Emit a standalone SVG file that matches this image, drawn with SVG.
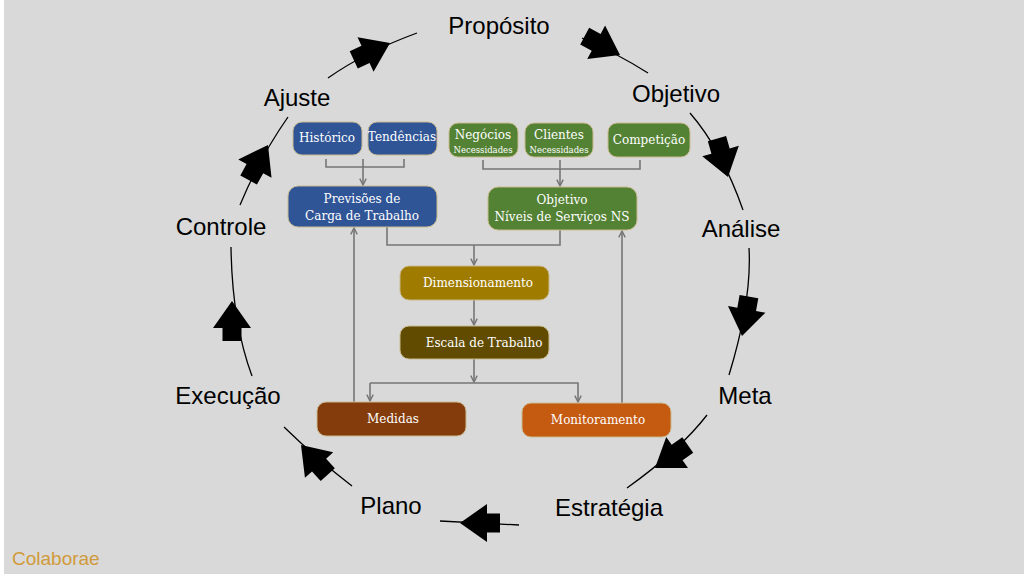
<svg xmlns="http://www.w3.org/2000/svg" xmlns:xlink="http://www.w3.org/1999/xlink" width="1024" height="581" viewBox="0 0 1024 581">
<defs>
<style>
.lbl{font-family:"Liberation Sans",Arial,sans-serif;font-size:24px;fill:#000;text-anchor:middle}
.bt{font-family:"DejaVu Serif",serif;font-size:12px;fill:#fff;text-anchor:middle}
.sm{font-family:"DejaVu Serif",serif;font-size:8.5px;fill:#fff;text-anchor:middle}
.box{stroke:#c9ba8f;stroke-width:1}
.cyc{fill:none;stroke:#000;stroke-width:1.3}
.con{fill:none;stroke:#767676;stroke-width:1.6}
</style>
<polygon id="ah" points="0,0 -27,-19 -27,-9.5 -40,-9.5 -40,9.5 -27,9.5 -27,19" fill="#000"/>
<marker id="m" viewBox="0 0 10 10" refX="9" refY="5" markerWidth="8" markerHeight="8" markerUnits="userSpaceOnUse" orient="auto">
<polyline points="1,1 9,5 1,9" fill="none" stroke="#767676" stroke-width="1.8"/>
</marker>
</defs>
<rect width="1024" height="581" fill="#fff"/>
<rect x="4" y="0" width="1020" height="574" fill="#d9d9d9"/>

<g id="cycle-connectors">
<path class="cyc" d="M328,78 Q365,52 417,33"/>
<use xlink:href="#ah" transform="translate(390,43) rotate(-25)"/>
<path class="cyc" d="M582,38 Q618,54 648,73"/>
<use xlink:href="#ah" transform="translate(620,55) rotate(28)"/>
<path class="cyc" d="M690,113 Q722,150 743,210"/>
<use xlink:href="#ah" transform="translate(728,177) rotate(74)"/>
<path class="cyc" d="M749,248 Q752,300 729,375"/>
<use xlink:href="#ah" transform="translate(742,336) rotate(100)"/>
<path class="cyc" d="M707,415 Q680,450 627,488"/>
<use xlink:href="#ah" transform="translate(655,468) rotate(145)"/>
<path class="cyc" d="M519,525 Q480,523 440,521"/>
<use xlink:href="#ah" transform="translate(460,523) rotate(180)"/>
<path class="cyc" d="M352,486 Q318,460 284,427"/>
<use xlink:href="#ah" transform="translate(301,445) rotate(228)"/>
<path class="cyc" d="M252,376 Q232,322 231,247"/>
<use xlink:href="#ah" transform="translate(232,301) rotate(-90)"/>
<path class="cyc" d="M240,205 Q260,157 288,117"/>
<use xlink:href="#ah" transform="translate(268,145) rotate(-61)"/>
</g>

<g id="cycle-labels">
<text class="lbl" x="499" y="34">Propósito</text>
<text class="lbl" x="676" y="102">Objetivo</text>
<text class="lbl" x="741" y="237">Análise</text>
<text class="lbl" x="745" y="404">Meta</text>
<text class="lbl" x="609" y="516">Estratégia</text>
<text class="lbl" x="391" y="514">Plano</text>
<text class="lbl" x="228" y="404">Execução</text>
<text class="lbl" x="221" y="235">Controle</text>
<text class="lbl" x="297" y="106">Ajuste</text>
</g>

<g id="connectors">
<polyline class="con" points="326,159 326,167 404,167 404,159"/>
<line class="con" x1="363" y1="159" x2="363" y2="185" marker-end="url(#m)"/>
<polyline class="con" points="483,160 483,169 640,169 640,160"/>
<line class="con" x1="560" y1="160" x2="560" y2="186" marker-end="url(#m)"/>
<polyline class="con" points="387,227 387,245 560,245 560,230"/>
<line class="con" x1="474" y1="245" x2="474" y2="265" marker-end="url(#m)"/>
<line class="con" x1="474" y1="300" x2="474" y2="325" marker-end="url(#m)"/>
<line class="con" x1="474" y1="359" x2="474" y2="382" marker-end="url(#m)"/>
<polyline class="con" points="370,383 578,383 578,402" marker-end="url(#m)"/>
<line class="con" x1="370" y1="383" x2="370" y2="401" marker-end="url(#m)"/>
<line class="con" x1="354" y1="402" x2="354" y2="228" marker-end="url(#m)"/>
<line class="con" x1="622" y1="403" x2="622" y2="231" marker-end="url(#m)"/>
</g>

<g id="historico"><rect class="box" x="293" y="122" width="69" height="33" rx="9" fill="#2f5597"/><text class="bt" x="327" y="142">Histórico</text></g>
<g id="tendencias"><rect class="box" x="368" y="122" width="69" height="33" rx="9" fill="#2f5597"/><text class="bt" x="402" y="141">Tendências</text></g>
<g id="negocios"><rect class="box" x="449" y="123" width="69" height="34" rx="9" fill="#548235"/><text class="bt" x="483" y="139">Negócios</text><text class="sm" x="483" y="153">Necessidades</text></g>
<g id="clientes"><rect class="box" x="525" y="123" width="68" height="34" rx="9" fill="#548235"/><text class="bt" x="559" y="139">Clientes</text><text class="sm" x="559" y="153">Necessidades</text></g>
<g id="competicao"><rect class="box" x="608" y="123" width="82" height="34" rx="9" fill="#548235"/><text class="bt" x="649" y="144">Competição</text></g>
<g id="previsoes"><rect class="box" x="288" y="186" width="149" height="41" rx="10" fill="#2f5597"/><text class="bt" x="362" y="203">Previsões de</text><text class="bt" x="362" y="220">Carga de Trabalho</text></g>
<g id="objetivo-ns"><rect class="box" x="488" y="187" width="149" height="43" rx="10" fill="#548235"/><text class="bt" x="562" y="204">Objetivo</text><text class="bt" x="562" y="221">Níveis de Serviços NS</text></g>
<g id="dimensionamento"><rect class="box" x="400" y="266" width="149" height="34" rx="9" fill="#9f7b00"/><text class="bt" x="478" y="287">Dimensionamento</text></g>
<g id="escala"><rect class="box" x="400" y="326" width="149" height="33" rx="9" fill="#614b00"/><text class="bt" x="484" y="347">Escala de Trabalho</text></g>
<g id="medidas"><rect class="box" x="317" y="402" width="149" height="34" rx="9" fill="#843c0c"/><text class="bt" x="393" y="423">Medidas</text></g>
<g id="monitoramento"><rect class="box" x="522" y="403" width="149" height="34" rx="9" fill="#c55a11"/><text class="bt" x="598" y="424">Monitoramento</text></g>

<text x="12" y="565" font-family="Liberation Sans, Arial, sans-serif" font-size="19" fill="#d19b39">Colaborae</text>
</svg>
